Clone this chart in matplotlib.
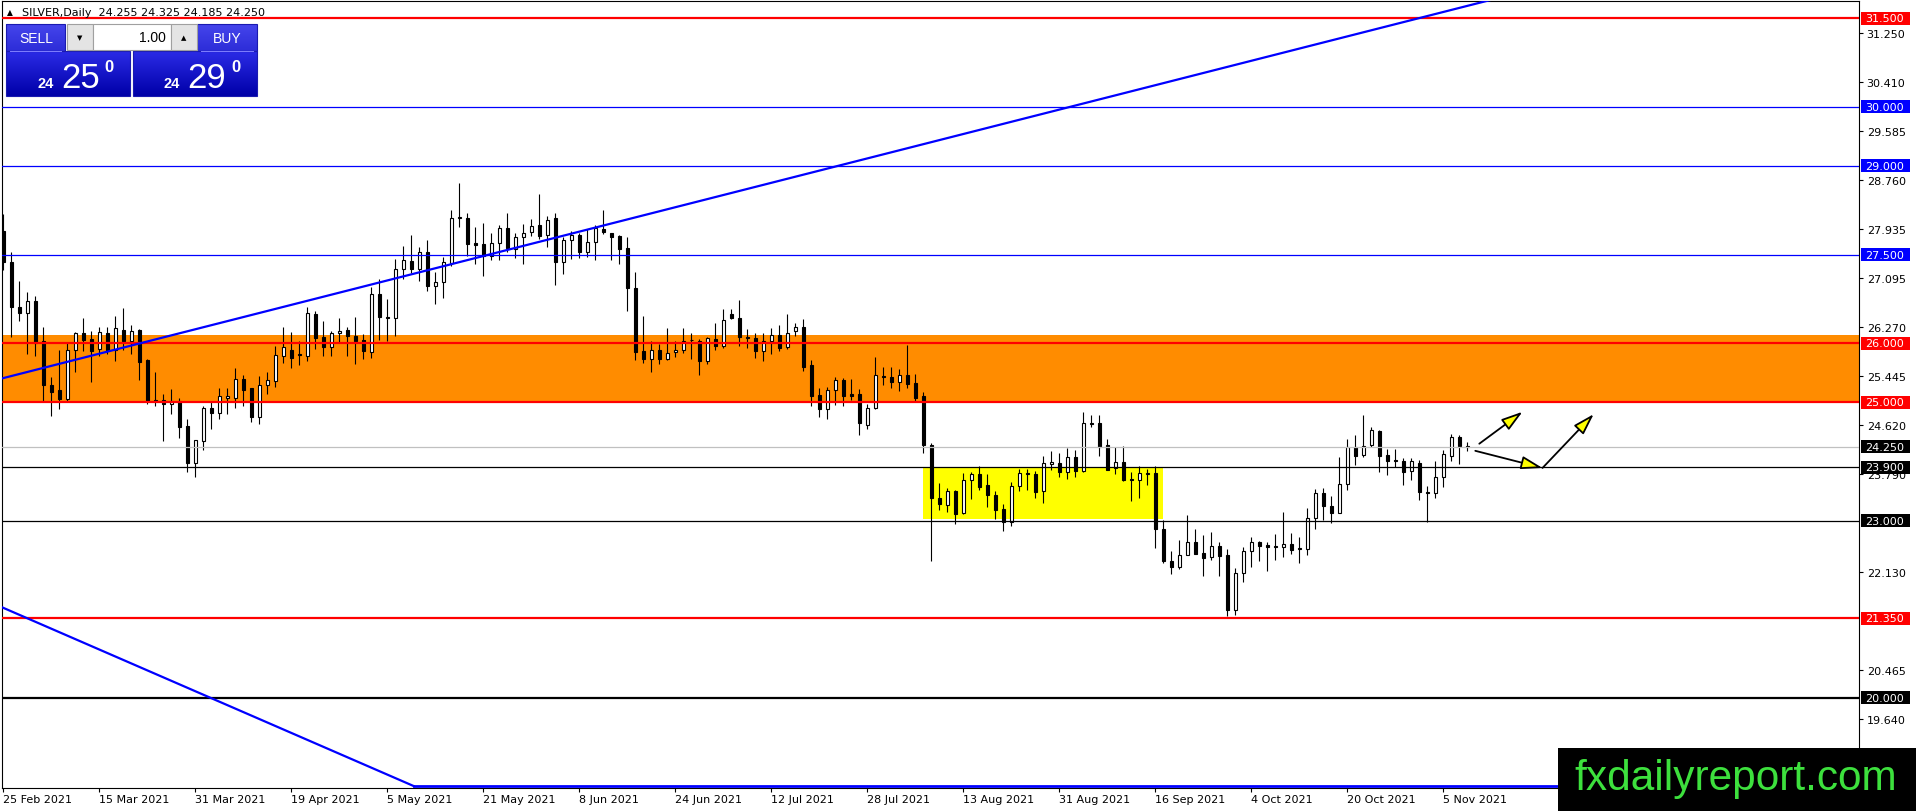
import numpy as np
import matplotlib
matplotlib.use("Agg")
import matplotlib.pyplot as plt
import matplotlib.transforms as mtransforms
from matplotlib.patches import Rectangle, FancyArrowPatch
from matplotlib.colors import LinearSegmentedColormap

# SILVER daily candles, 25 Feb 2021 .. 10 Nov 2021 (one entry per bar)
opens = [27.89, 27.37, 26.62, 26.51, 26.71, 26.03, 25.30, 25.21, 25.06, 25.89,
         26.18, 26.07, 25.91, 26.17, 25.89, 26.23, 26.03, 26.22, 25.72, 25.04,
         25.04, 24.97, 25.02, 24.60, 23.97, 24.34, 24.90, 24.82, 25.07, 25.08,
         25.39, 25.24, 24.76, 25.29, 25.36, 25.79, 25.89, 25.82, 25.79, 26.50,
         26.11, 25.93, 26.17, 26.22, 26.12, 26.05, 25.85, 26.84, 26.45, 26.42,
         27.26, 27.39, 27.26, 27.55, 26.96, 27.03, 27.35, 28.11, 28.12, 27.69,
         27.67, 27.48, 27.69, 27.95, 27.60, 27.79, 27.88, 28.00, 27.83, 28.11,
         27.38, 27.75, 27.83, 27.55, 27.72, 27.93, 27.86, 27.82, 27.61, 26.93,
         25.86, 25.74, 25.89, 25.74, 25.85, 25.88, 26.06, 26.04, 25.70, 26.07,
         25.96, 26.50, 26.42, 26.10, 26.08, 25.87, 26.03, 26.14, 25.93, 26.20,
         26.28, 25.63, 25.12, 24.88, 25.21, 25.38, 25.14, 25.14, 24.62, 24.90,
         25.44, 25.42, 25.34, 25.46, 25.33, 25.10, 24.27, 23.39, 23.27, 23.50,
         23.12, 23.69, 23.79, 23.60, 23.44, 23.20, 22.97, 23.58, 23.81, 23.79,
         23.50, 23.95, 23.97, 23.83, 24.07, 23.84, 24.64, 24.65, 24.27, 23.89,
         23.99, 23.70, 23.69, 23.79, 23.80, 22.86, 22.31, 22.21, 22.42, 22.63,
         22.46, 22.38, 22.57, 22.42, 21.48, 22.12, 22.48, 22.63, 22.58, 22.57,
         22.55, 22.61, 22.54, 22.52, 23.04, 23.46, 23.25, 23.13, 23.62, 24.24,
         24.11, 24.28, 24.52, 24.11, 24.02, 24.01, 23.84, 23.98, 23.48, 23.47,
         23.73, 24.10, 24.41, 24.255]
highs = [28.19, 27.55, 27.05, 26.86, 26.79, 26.28, 25.43, 25.89, 26.02, 26.19,
         26.43, 26.21, 26.28, 26.28, 26.46, 26.60, 26.30, 26.24, 25.73, 25.51,
         25.14, 25.23, 25.07, 24.71, 24.37, 24.94, 25.03, 25.25, 25.24, 25.58,
         25.46, 25.25, 25.45, 25.51, 25.96, 26.28, 26.19, 26.04, 26.61, 26.55,
         26.38, 26.21, 26.43, 26.27, 26.44, 26.16, 26.95, 27.09, 26.75, 27.42,
         27.64, 27.83, 27.63, 27.75, 27.20, 27.46, 28.25, 28.71, 28.20, 27.96,
         28.03, 27.86, 28.00, 28.20, 27.86, 28.02, 28.10, 28.52, 28.15, 28.20,
         27.79, 27.90, 27.86, 27.93, 28.00, 28.25, 27.87, 27.83, 27.79, 27.20,
         26.46, 26.04, 25.99, 26.25, 26.03, 26.25, 26.18, 26.07, 26.11, 26.35,
         26.58, 26.58, 26.73, 26.24, 26.17, 26.17, 26.25, 26.31, 26.49, 26.35,
         26.41, 25.72, 25.24, 25.26, 25.42, 25.41, 25.40, 25.23, 24.97, 25.76,
         25.59, 25.59, 25.56, 25.97, 25.48, 25.17, 24.32, 23.64, 23.55, 23.51,
         23.81, 23.83, 23.93, 23.79, 23.50, 23.28, 23.65, 23.87, 23.87, 23.84,
         24.09, 24.17, 24.15, 24.23, 24.19, 24.83, 24.79, 24.79, 24.38, 24.24,
         24.26, 23.82, 23.93, 23.87, 23.93, 23.01, 22.48, 22.68, 23.09, 22.85,
         22.76, 22.80, 22.63, 22.52, 22.20, 22.55, 22.72, 22.65, 22.63, 22.77,
         23.15, 22.79, 22.73, 23.21, 23.53, 23.55, 23.41, 24.07, 24.38, 24.45,
         24.79, 24.58, 24.53, 24.21, 24.21, 24.05, 24.05, 24.03, 23.59, 24.00,
         24.20, 24.46, 24.44, 24.325]
lows = [27.23, 26.10, 26.38, 25.82, 25.79, 25.02, 24.77, 24.89, 25.03, 25.51,
        25.87, 25.34, 25.78, 25.82, 25.70, 25.89, 25.82, 25.37, 24.97, 24.93,
        24.35, 24.80, 24.39, 23.82, 23.73, 24.20, 24.55, 24.72, 24.81, 24.90,
        24.94, 24.66, 24.64, 25.14, 25.26, 25.67, 25.58, 25.63, 25.70, 25.91,
        25.79, 25.79, 26.02, 25.79, 25.65, 25.73, 25.75, 26.05, 26.04, 26.12,
        27.09, 27.19, 27.06, 26.89, 26.66, 26.76, 27.30, 27.96, 27.48, 27.34,
        27.14, 27.41, 27.41, 27.54, 27.44, 27.34, 27.82, 27.76, 27.62, 26.98,
        27.17, 27.42, 27.44, 27.46, 27.41, 27.84, 27.41, 27.34, 26.55, 25.72,
        25.67, 25.51, 25.64, 25.72, 25.76, 25.83, 25.73, 25.46, 25.64, 25.89,
        25.92, 26.41, 25.96, 25.92, 25.75, 25.70, 25.82, 25.86, 25.90, 26.12,
        25.53, 24.94, 24.76, 24.71, 24.96, 24.94, 25.04, 24.44, 24.55, 24.89,
        25.30, 25.24, 25.20, 25.25, 25.02, 24.14, 22.31, 23.18, 23.15, 22.94,
        23.11, 23.37, 23.52, 23.23, 23.03, 22.83, 22.91, 23.50, 23.52, 23.38,
        23.29, 23.86, 23.74, 23.70, 23.74, 23.82, 24.59, 24.10, 23.86, 23.79,
        23.67, 23.33, 23.39, 23.61, 22.54, 22.28, 22.10, 22.18, 22.41, 22.43,
        22.06, 22.34, 22.06, 21.39, 21.40, 21.96, 22.22, 22.31, 22.15, 22.34,
        22.38, 22.44, 22.29, 22.41, 22.85, 23.01, 22.96, 23.12, 23.52, 23.94,
        24.07, 24.24, 23.83, 23.77, 23.90, 23.60, 23.69, 23.34, 22.97, 23.39,
        23.56, 24.00, 23.96, 24.185]
closes = [27.37, 26.61, 26.51, 26.71, 26.01, 25.30, 25.17, 25.06, 25.88, 26.17,
          26.06, 25.86, 26.19, 25.89, 26.25, 26.03, 26.21, 25.69, 25.02, 25.02,
          24.97, 25.03, 24.59, 23.97, 24.36, 24.90, 24.82, 25.10, 25.10, 25.39,
          25.21, 24.76, 25.29, 25.37, 25.80, 25.94, 25.75, 25.80, 26.51, 26.09,
          25.94, 26.17, 26.21, 26.12, 26.04, 25.86, 26.84, 26.45, 26.42, 27.26,
          27.40, 27.26, 27.55, 26.97, 27.03, 27.37, 28.11, 28.13, 27.67, 27.66,
          27.48, 27.69, 27.95, 27.61, 27.79, 27.86, 27.98, 27.82, 28.09, 27.38,
          27.75, 27.83, 27.55, 27.72, 27.95, 27.88, 27.79, 27.59, 26.93, 25.85,
          25.74, 25.89, 25.74, 25.83, 25.88, 26.04, 26.05, 25.70, 26.08, 25.96,
          26.40, 26.42, 26.10, 26.08, 25.87, 26.03, 26.14, 25.92, 26.18, 26.28,
          25.60, 25.11, 24.88, 25.21, 25.38, 25.11, 25.11, 24.65, 24.90, 25.46,
          25.42, 25.35, 25.47, 25.31, 25.07, 24.27, 23.38, 23.28, 23.50, 23.11,
          23.69, 23.79, 23.57, 23.44, 23.18, 22.97, 23.58, 23.81, 23.79, 23.49,
          23.97, 23.99, 23.83, 24.07, 23.84, 24.65, 24.63, 24.25, 23.86, 23.99,
          23.69, 23.68, 23.80, 23.81, 22.85, 22.32, 22.21, 22.42, 22.63, 22.44,
          22.36, 22.57, 22.40, 21.48, 22.12, 22.48, 22.63, 22.57, 22.56, 22.56,
          22.61, 22.51, 22.52, 23.04, 23.46, 23.24, 23.13, 23.62, 24.24, 24.10,
          24.26, 24.53, 24.10, 24.01, 24.01, 23.83, 24.00, 23.48, 23.47, 23.73,
          24.13, 24.41, 24.26, 24.250]

date_labels = ["25 Feb 2021", "15 Mar 2021", "31 Mar 2021", "19 Apr 2021",
               "5 May 2021", "21 May 2021", "8 Jun 2021", "24 Jun 2021",
               "12 Jul 2021", "28 Jul 2021", "13 Aug 2021", "31 Aug 2021",
               "16 Sep 2021", "4 Oct 2021", "20 Oct 2021", "5 Nov 2021"]
date_bars = [0, 12, 24, 36, 48, 60, 72, 84, 96, 108, 120, 132, 144, 156, 168, 180]

# scale values that are readable on the price axis (the rest sit under level boxes)
price_ticks = [31.250, 30.410, 29.585, 28.760, 27.935, 27.095, 26.270, 25.445,
               24.620, 23.790, 22.130, 20.465, 19.640]

levels = [31.5, 30.0, 29.0, 27.5, 26.0, 25.0, 24.25, 23.9, 23.0, 21.35, 20.0]
level_kind = ["red", "blue", "blue", "blue", "red", "red", "bid", "black", "black", "red", "black2"]

orange_zone = (25.0, 26.135)
yellow_box = (114.95, 144.9, 23.02, 23.90)
up_trend = ((0, 25.41), (150, 30.57))
down_trend = ((-0.1, 21.53), (51.3, 18.51))
arrows = [((184.5, 24.30), (189.9, 24.84)),
          ((184.0, 24.18), (192.4, 23.89)),
          ((192.4, 23.89), (198.8, 24.80))]

sell_price = ("24", "25", "0")
buy_price = ("24", "29", "0")
lot_size = "1.00"

styles = {
    "red": dict(color="#ff0000", lw=1.6, box="#ff0000"),
    "blue": dict(color="#0000ff", lw=0.9, box="#0000ff"),
    "bid": dict(color="#c0c0c0", lw=0.9, box="#000000"),
    "black": dict(color="#000000", lw=0.9, box="#000000"),
    "black2": dict(color="#000000", lw=1.6, box="#000000"),
}

W, H = 1916, 812
L_PX, R_PX, T_PX, B_PX = 2, 1859, 2, 789

fig = plt.figure(figsize=(W / 100, H / 100), dpi=100)
fig.patch.set_facecolor("white")
ax = fig.add_axes([L_PX / W, (H - B_PX) / H, (R_PX - L_PX) / W, (B_PX - T_PX) / H])

o = np.array(opens)
h = np.array(highs)
l = np.array(lows)
c = np.array(closes)
x = np.arange(len(o))

ppx = 59.1  # pixels per price unit
ax.set_ylim(20 - (B_PX - 699) / ppx, 31.5 + (19 - T_PX) / ppx)
ax.set_xlim((L_PX - 3.3) / 8, (R_PX - 3.3) / 8)

# background zones
ax.axhspan(orange_zone[0], orange_zone[1], color="#ff8c00", lw=0, zorder=0)
ax.add_patch(Rectangle((yellow_box[0], yellow_box[2]), yellow_box[1] - yellow_box[0],
                       yellow_box[3] - yellow_box[2], fc="#ffff00", ec="none", zorder=0.5))

# candles
ax.vlines(x, l, h, color="black", lw=0.8, zorder=3)
up = c >= o
ht = np.maximum(np.abs(c - o), 0.012)
ax.bar(x[up], ht[up], bottom=o[up], width=0.45, facecolor="white",
       edgecolor="black", linewidth=0.8, zorder=4)
ax.bar(x[~up], ht[~up], bottom=c[~up], width=0.45, facecolor="black",
       edgecolor="black", linewidth=0.8, zorder=4)

# horizontal levels
for p, k in zip(levels, level_kind):
    st = styles[k]
    ax.axhline(p, color=st["color"], lw=st["lw"], zorder=5)

# trend lines
(x1, y1), (x2, y2) = up_trend
k_up = (y2 - y1) / (x2 - x1)
xs = np.array([-2, 240])
ax.plot(xs, y1 + k_up * (xs - x1), color="#0000ff", lw=1.6, zorder=5)
(x1, y1), (x2, y2) = down_trend
ax.plot([x1 - 1, x2], [y1 + (y2 - y1) / (x2 - x1) * -1, y2], color="#0000ff", lw=1.6, zorder=5)
ax.plot([x2, 240], [y2, y2], color="#0000ff", lw=2.0, zorder=5, clip_on=False)

for a, b in arrows:
    ax.add_patch(FancyArrowPatch(a, b, arrowstyle="-|>,head_length=1.3,head_width=0.4",
                                 mutation_scale=10, fc="#ffff00", ec="black", lw=1.3,
                                 shrinkA=0, shrinkB=0, zorder=6))

# axes / ticks
for s in ax.spines.values():
    s.set_color("black")
    s.set_linewidth(0.8)
ax.yaxis.tick_right()
ax.set_yticks(price_ticks, ["%.3f" % t for t in price_ticks])
ax.tick_params(axis="y", length=3, width=0.8, pad=2.5, labelsize=8, colors="black")
ax.set_xticks(date_bars, date_labels)
ax.tick_params(axis="x", length=3, width=0.8, pad=1.5, labelsize=8)
for lbl in ax.get_xticklabels():
    lbl.set_ha("left")

# coloured price labels on the right scale
blend = mtransforms.blended_transform_factory(ax.transAxes, ax.transData)
aw = R_PX - L_PX
for p, k in zip(levels, level_kind):
    st = styles[k]
    hh = 6.5 / ppx
    ax.add_patch(Rectangle(((1861 - L_PX) / aw, p - hh), 49 / aw, 2 * hh, transform=blend,
                           fc=st["box"], ec="none", clip_on=False, zorder=10))
    ax.text((1865.5 - L_PX) / aw, p, "%.3f" % p, transform=blend, color="white",
            fontsize=8, va="center", ha="left", zorder=11, clip_on=False)

# overlay in pixel coordinates: title, trade panel, watermark
ov = fig.add_axes([0, 0, 1, 1], zorder=20)
ov.patch.set_alpha(0)
ov.axis("off")

ov.text(7, 13, "\u25b2", fontsize=5.5, va="center", ha="left")
ohlc_txt = "%.3f %.3f %.3f %.3f" % (opens[-1], highs[-1], lows[-1], closes[-1])
ov.text(22, 13, "SILVER,Daily  " + ohlc_txt, fontsize=8, va="center", ha="left")

grad = np.linspace(0, 1, 60).reshape(-1, 1)
cm_low = LinearSegmentedColormap.from_list("lowbox", ["#2b2be6", "#0000a8"])
cm_top = LinearSegmentedColormap.from_list("topbox", ["#4545ec", "#2d2dd8"])
for (bx0, bx1), (tx0, tx1) in [((6, 130), (6, 65)), ((133, 257), (197, 257))]:
    ov.imshow(grad, extent=(tx0, tx1, 52, 25), cmap=cm_top, aspect="auto", zorder=1)
    ov.imshow(grad, extent=(bx0, bx1, 97, 52), cmap=cm_low, aspect="auto", zorder=1)
    ov.add_patch(Rectangle((tx0, 25), tx1 - tx0, 27, fc="none", ec="#1a1ab0", lw=0.8, zorder=2))
    ov.add_patch(Rectangle((bx0, 52), bx1 - bx0, 45, fc="none", ec="#1a1ab0", lw=0.8, zorder=2))
    ov.plot([tx0 + 4, tx1 - 4], [52, 52], color="#8080ff", lw=0.7, zorder=3)

ov.add_patch(Rectangle((67, 25), 26, 26, fc="#e4e4e4", ec="#a0a0a0", lw=0.8, zorder=2))
ov.add_patch(Rectangle((93, 25), 78, 26, fc="white", ec="#a0a0a0", lw=0.8, zorder=2))
ov.add_patch(Rectangle((171, 25), 26, 26, fc="#e4e4e4", ec="#a0a0a0", lw=0.8, zorder=2))
ov.text(80, 38, "\u25bc", fontsize=5, ha="center", va="center", zorder=3)
ov.text(184, 38, "\u25b2", fontsize=5, ha="center", va="center", zorder=3)
ov.text(166, 38, lot_size, fontsize=10, ha="right", va="center", zorder=3,
        family="Liberation Sans")

ov.text(36, 39, "SELL", fontsize=10, color="white", ha="center", va="center", zorder=3,
        family="Liberation Sans")
ov.text(227, 39, "BUY", fontsize=10, color="white", ha="center", va="center", zorder=3,
        family="Liberation Sans")
for (small, big, sup), (sx, bx, ux) in [(sell_price, (38, 61, 104)), (buy_price, (164, 187, 231))]:
    ov.text(sx, 88, small, fontsize=10.5, weight="bold", color="white", va="baseline",
            ha="left", family="Liberation Sans", zorder=3)
    ov.text(bx, 88, big, fontsize=25, color="white", va="baseline", ha="left",
            family="Liberation Sans", zorder=3)
    ov.text(ux, 72, sup, fontsize=12, weight="bold", color="white", va="baseline",
            ha="left", family="Liberation Sans", zorder=3)

ov.add_patch(Rectangle((1558, 749), W - 1558, H - 749, fc="black", ec="none", zorder=4))
ov.text(1574, 790, "fxdailyreport.com", fontsize=30.5, color="#3de03d", va="baseline",
        ha="left", family="Liberation Sans", zorder=5)

ov.set_xlim(0, W)
ov.set_ylim(H, 0)

fig.savefig("out.png", dpi=100)
